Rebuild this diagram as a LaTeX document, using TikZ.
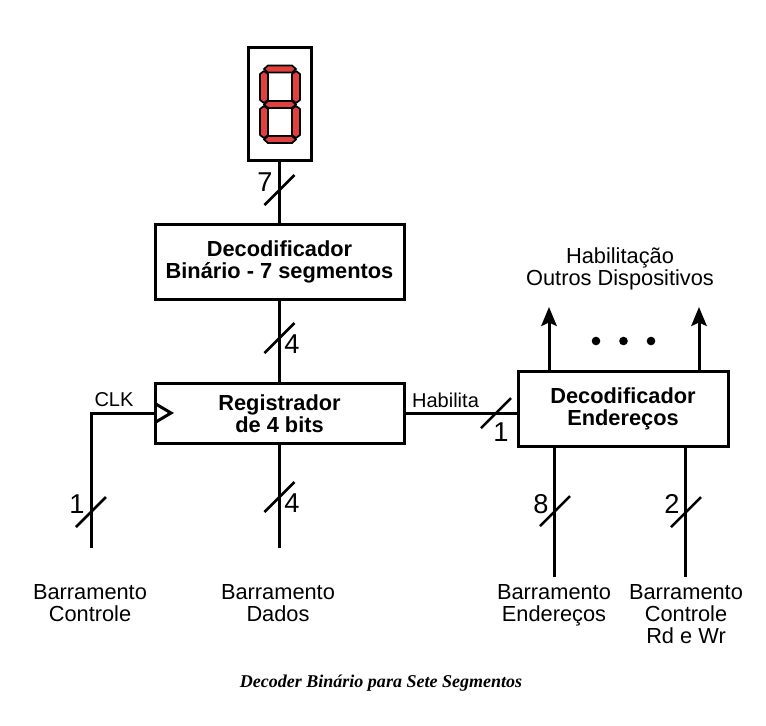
\documentclass[tikz,border=0pt]{standalone}
\usepackage{fontspec}
\setmainfont{Liberation Sans}
\newfontfamily\legendafont{Liberation Serif}
\usepackage{xcolor}
\definecolor{segred}{HTML}{E2403F}
\usetikzlibrary{arrows.meta}

\begin{document}
\begin{tikzpicture}[
  x=0.2mm, y=-0.2mm,
  font=\fontsize{12.4}{13}\selectfont,
  every node/.style={align=center, inner sep=0pt, outer sep=0pt},
  wire/.style={line width=0.6mm},
  seta/.style={wire, -{Stealth[length=3.8mm, width=3.1mm, inset=0.7mm]}},
  bloco/.style={draw, line width=0.6mm, font=\fontsize{12.4}{12.5}\selectfont\bfseries},
  rotulo/.style={font=\fontsize{12.4}{12.6}\selectfont, anchor=north},
  largura/.style={font=\fontsize{15.5}{16}\selectfont},
  segmento/.style={draw, fill=segred, line width=0.35mm, line join=round}
]
  \useasboundingbox (0,0) rectangle (766,725);

  \node[draw, line width=0.6mm, minimum width=12.6mm, minimum height=22.6mm] (display) at (279.5,103.5) {};
  \foreach \sy in {69,104.5,139.5}
    \draw[segmento] (264,\sy) -- (268,\sy-3.5) -- (292,\sy-3.5) -- (296,\sy) -- (292,\sy+3.5) -- (268,\sy+3.5) -- cycle;
  \foreach \sx in {264,296}
    \foreach \sy in {87,122}
      \draw[segmento] (\sx,\sy-16) -- (\sx+4,\sy-13) -- (\sx+4,\sy+13) -- (\sx,\sy+16) -- (\sx-4,\sy+13) -- (\sx-4,\sy-13) -- cycle;

  \node[bloco, minimum width=49.8mm, minimum height=15mm] (decod7) at (279.5,261.5) {Decodificador\\Binário - 7 segmentos};
  \node[bloco, minimum width=49.8mm, minimum height=12.1mm] (registrador) at (279.5,413.5) {Registrador\\de 4 bits};
  \node[bloco, minimum width=42mm, minimum height=15mm] (decodend) at (623,408.5) {Decodificador\\Endereços};

  \coordinate (clk) at (155,413);
  \coordinate (busctrl) at (91,548);
  \coordinate (busdados) at (279.5,548);
  \coordinate (busend) at (554,577);
  \coordinate (busrdwr) at (685,577);
  \coordinate (saida1) at (549,307);
  \coordinate (saida2) at (699,307);

  \draw[wire] (display) -- (decod7);
  \draw[wire] (decod7) -- (registrador);
  \draw[wire] (registrador) -- (busdados);
  \draw[wire] (registrador.east) -- (registrador.east -| decodend.west);
  \draw[wire] (busctrl) |- (clk);
  \draw[wire] (decodend.south -| busend) -- (busend);
  \draw[wire] (decodend.south -| busrdwr) -- (busrdwr);
  \draw[seta] (decodend.north -| saida1) -- (saida1);
  \draw[seta] (decodend.north -| saida2) -- (saida2);
  \draw[wire, line join=miter] (155,403.5) -- (171,413) -- (155,422.5);

  \foreach \px/\py in {279.5/190, 279.5/338, 279.5/497, 91/512, 496/413, 555/511, 686/512}
    \draw[line width=0.5mm] (\px,\py) +(-15,15) -- +(15,-15);

  \foreach \px in {596,623.5,651}
    \fill (\px,341) circle (4.3);

  \node[largura] (n7) at (265,182) {7};
  \node[largura] (n4a) at (292,344) {4};
  \node[largura] (n4b) at (292,503) {4};
  \node[largura] (n1a) at (77,504) {1};
  \node[largura] (n1b) at (501,432) {1};
  \node[largura] (n8) at (541,504) {8};
  \node[largura] (n2) at (672,504) {2};

  \node[font=\fontsize{11.4}{12}\selectfont] (lclk) at (114,400) {CLK};
  \node[font=\fontsize{11.4}{12}\selectfont] (lhab) at (445.5,400) {Habilita};
  \node[rotulo] (lsaida) at (620,248) {Habilitação\\Outros Dispositivos};
  \node[rotulo] (lctrl) at (90,584) {Barramento\\Controle};
  \node[rotulo] (ldados) at (278,584) {Barramento\\Dados};
  \node[rotulo] (lend) at (554,584) {Barramento\\Endereços};
  \node[rotulo] (lrdwr) at (686,584) {Barramento\\Controle\\Rd e Wr};

  \node[font=\legendafont\fontsize{10.25}{11}\selectfont\bfseries\itshape] (legenda) at (381,683) {Decoder Binário para Sete Segmentos};
\end{tikzpicture}
\end{document}
